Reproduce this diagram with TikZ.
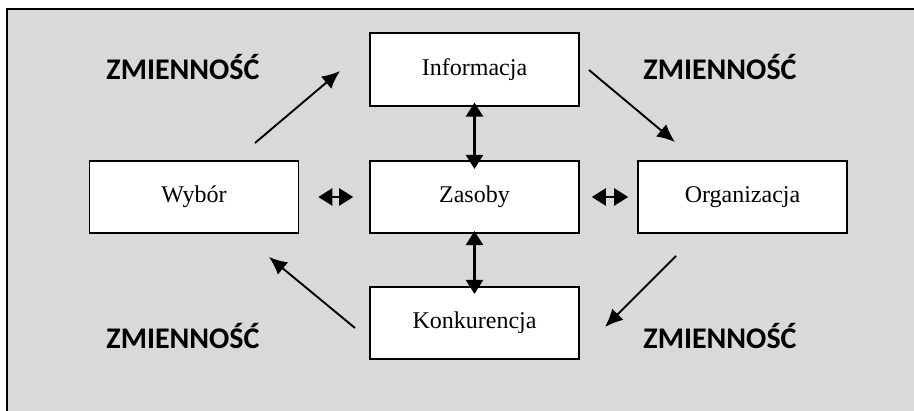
\documentclass[tikz,border=0pt]{standalone}
\usepackage{fontspec}
\setmainfont{Liberation Serif}
\newfontfamily\zmfont{Carlito}
\usetikzlibrary{arrows.meta}
\definecolor{bggray}{HTML}{D9D9D9}
\tikzset{
  box/.style={draw=black, line width=1.6pt, fill=white, minimum width=209pt, minimum height=72.5pt, inner sep=0pt, font=\fontsize{24}{28}\selectfont},
  zm/.style={font=\zmfont\bfseries\fontsize{30}{34}\selectfont, inner sep=0pt},
  flow/.style={line width=1.9pt, -{Latex[length=18pt,width=16pt]}},
  dbl/.style={line width=2.2pt, {Triangle[length=14pt,width=17pt]}-{Triangle[length=14pt,width=17pt]}}
}
\begin{document}
\begin{tikzpicture}[x=1pt,y=-1pt]
\useasboundingbox (0,0) rectangle (914,411);
\clip (0,0) rectangle (914,411);
\draw[line width=1.8pt, fill=bggray] (7,9) rectangle (930,430);
\node[box] (info) at (474.5,69.5) {Informacja};
\node[box] (wyb) at (194,197) {Wybór};
\node[box] (zas) at (474.5,197) {Zasoby};
\node[box] (org) at (742.5,197) {Organizacja};
\node[box] (kon) at (474.5,323) {Konkurencja};
\node[zm] (z1) at (183,67) {ZMIENNOŚĆ};
\node[zm] (z2) at (720,67) {ZMIENNOŚĆ};
\node[zm] (z3) at (183,336) {ZMIENNOŚĆ};
\node[zm] (z4) at (720,336) {ZMIENNOŚĆ};
\coordinate (a1s) at (255,143);
\coordinate (a1e) at (340,71);
\coordinate (a2s) at (589,70);
\coordinate (a2e) at (675,142);
\coordinate (a3s) at (676,256);
\coordinate (a3e) at (605,327);
\coordinate (a4s) at (355,328);
\coordinate (a4e) at (269,257);
\draw[flow] (a1s) -- (a1e);
\draw[flow] (a2s) -- (a2e);
\draw[flow] (a3s) -- (a3e);
\draw[flow] (a4s) -- (a4e);
\draw[dbl] ([yshift=4pt]info.south) -- ([yshift=-9pt]zas.north);
\draw[dbl] ([yshift=3pt]zas.south) -- ([yshift=-8pt]kon.north);
\draw[dbl] ([xshift=19pt]wyb.east) -- ([xshift=-16pt]zas.west);
\draw[dbl] ([xshift=12pt]zas.east) -- ([xshift=-9pt]org.west);
\end{tikzpicture}
\end{document}
